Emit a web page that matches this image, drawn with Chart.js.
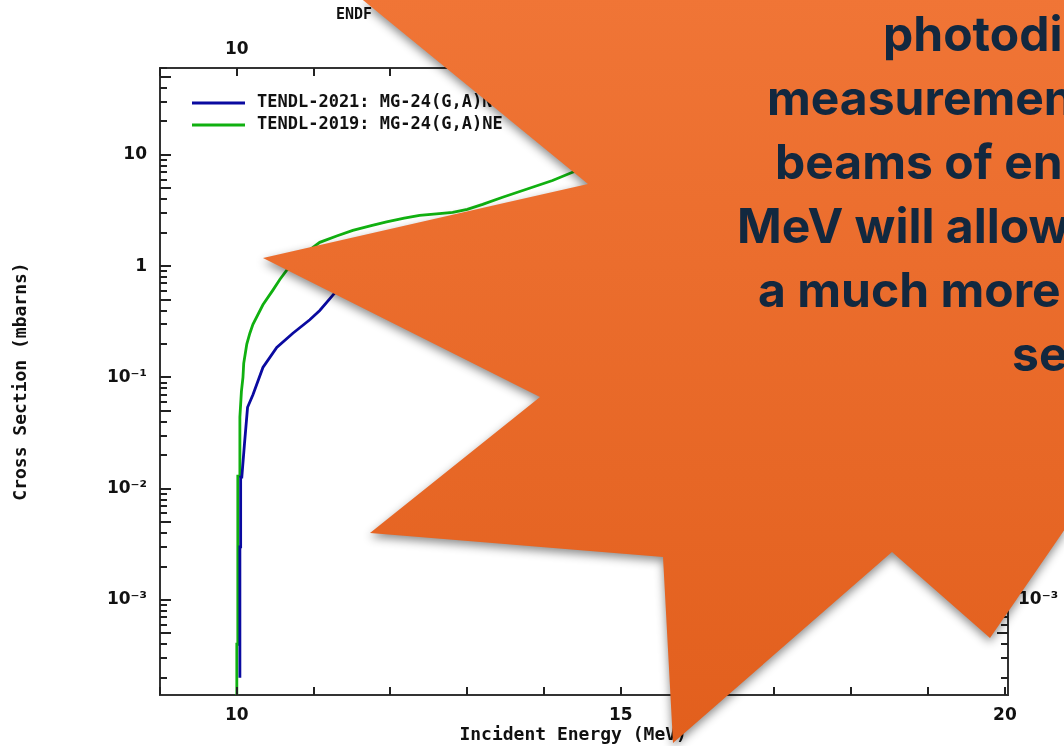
<!DOCTYPE html>
<html>
<head>
<meta charset="utf-8">
<script src="https://cdn.jsdelivr.net/npm/chart.js@4.4.1/dist/chart.umd.min.js"></script>
<style>
  body { margin: 0; background: #fff; }
  #quadro { position: relative; width: 1064px; height: 746px; overflow: hidden; background: #fff; }
  #grafico { position: absolute; left: 0; top: 0; }
  #estrela { position: absolute; left: 0; top: 0; pointer-events: none; filter: drop-shadow(0 4px 5px rgba(0,0,0,0.45)); }
  #texto { position: absolute; left: 0; top: 2px; width: 1064px; font-family: Inter, "Noto Sans", sans-serif; font-weight: 700;
           font-size: 48px; line-height: 64px; color: #12283f; white-space: nowrap; pointer-events: none; }
</style>
</head>
<body>
<div id="quadro">
  <canvas id="grafico" width="1064" height="746"></canvas>
  <svg id="estrela" width="1064" height="746" viewBox="0 0 1064 746">
    <defs>
      <linearGradient id="laranja" x1="0" y1="0" x2="0" y2="1">
        <stop offset="0" stop-color="#f07536"/>
        <stop offset="1" stop-color="#e25f1d"/>
      </linearGradient>
    </defs>
    <polygon fill="url(#laranja)" points="358,-4 588,184 263,258 540,397 370,533 663,557 673,743 892,552 990,638 1072,519 1072,-4"/>
  </svg>
  <div id="texto">
    <div style="padding-left:883px">photodi</div>
    <div style="padding-left:767px">measuremen</div>
    <div style="padding-left:775px">beams of en</div>
    <div style="padding-left:737px">MeV will allow</div>
    <div style="padding-left:758px">a much more</div>
    <div style="padding-left:1012px">se</div>
  </div>
</div>
<script>
// TENDL-2021 (azul)
const energia2021 = [10.04, 10.04, 10.05, 10.05, 10.065, 10.10, 10.14, 10.21, 10.34, 10.52, 10.73, 10.95, 11.08, 11.27, 11.5];
const secao2021   = [2.0e-4, 3.0e-3, 3.0e-3, 0.0127, 0.0127, 0.0255, 0.054, 0.07, 0.123, 0.186, 0.25, 0.33, 0.40, 0.57, 0.8];

// TENDL-2019 (verde)
const energia2019 = [10.00, 10.00, 10.013, 10.013, 10.03, 10.04, 10.06, 10.08, 10.09, 10.13, 10.17, 10.21, 10.34, 10.47, 10.56, 10.65,
                     10.85, 11.08, 11.3, 11.51, 11.75, 11.95, 12.18, 12.38, 12.6, 12.81, 13.0, 13.2, 13.46, 13.8, 14.11, 14.37, 14.7];
const secao2019   = [1.0e-4, 4.0e-4, 4.0e-4, 0.013, 0.013, 0.044, 0.075, 0.10, 0.134, 0.2, 0.25, 0.30, 0.45, 0.61, 0.76, 0.92,
                     1.25, 1.64, 1.87, 2.1, 2.32, 2.5, 2.7, 2.87, 2.96, 3.05, 3.25, 3.6, 4.17, 5.0, 5.9, 7.0, 8.0];

const legendas = ['TENDL-2021: MG-24(G,A)NE', 'TENDL-2019: MG-24(G,A)NE'];
const cores = ['#0a0aa0', '#10b010'];

const rotulosX = [10, 15, 20];
const rotulosY = [10, 1, 0.1, 0.01, 0.001];
const textosY = ['10', '1', '10\u207B\u00B9', '10\u207B\u00B2', '10\u207B\u00B3'];

const xMin = 9, xMax = 20.04;
const yMin = 1.4e-4, yMax = 60.5;

function juntaPontos(xs, ys) {
  return xs.map((x, i) => ({ x: x, y: ys[i] }));
}

function ticksX(escala) {
  let lista = [];
  for (let v = Math.ceil(xMin); v <= Math.floor(xMax); v++) lista.push({ value: v });
  escala.ticks = lista;
}

function ticksY(escala) {
  let lista = [];
  for (let e = -4; e <= 1; e++) {
    for (let m = 1; m <= 9; m++) {
      const v = m * Math.pow(10, e);
      if (v >= yMin && v <= yMax) lista.push({ value: v, major: m === 1 || m === 5 });
    }
  }
  escala.ticks = lista;
}

function rotuloX(valor) {
  return rotulosX.includes(valor) ? String(valor) : '';
}

function rotuloY(valor) {
  for (let i = 0; i < rotulosY.length; i++) {
    if (Math.abs(Math.log10(valor) - Math.log10(rotulosY[i])) < 1e-6) return textosY[i];
  }
  return '';
}

const fonteNum = { family: 'DejaVu Sans', size: 17, weight: 'bold' };
const fonteMono = { family: 'DejaVu Sans Mono', size: 18, weight: 'bold' };
const borda = { display: true, color: '#333', width: 2 };

const desenhos = {
  id: 'desenhos',
  afterDraw(chart) {
    const ctx = chart.ctx;
    const area = chart.chartArea;
    ctx.save();
    ctx.strokeStyle = '#222';
    ctx.lineWidth = 2;
    // marcas internas nos eixos x
    ['x', 'x2'].forEach(id => {
      const escala = chart.scales[id];
      const y0 = id === 'x' ? area.bottom : area.top;
      const dir = id === 'x' ? -1 : 1;
      escala.ticks.forEach(t => {
        const px = Math.round(escala.getPixelForValue(t.value));
        ctx.beginPath();
        ctx.moveTo(px, y0);
        ctx.lineTo(px, y0 + dir * 8);
        ctx.stroke();
      });
    });
    // marcas internas nos eixos y
    ['y', 'y2'].forEach(id => {
      const escala = chart.scales[id];
      const x0 = id === 'y' ? area.left : area.right;
      const dir = id === 'y' ? 1 : -1;
      escala.ticks.forEach(t => {
        const py = Math.round(escala.getPixelForValue(t.value));
        ctx.beginPath();
        ctx.moveTo(x0, py);
        ctx.lineTo(x0 + dir * (t.major ? 11 : 7), py);
        ctx.stroke();
      });
    });
    // legenda
    ctx.font = 'bold 17px "DejaVu Sans Mono"';
    ctx.textBaseline = 'middle';
    ctx.textAlign = 'left';
    chart.data.datasets.forEach((ds, i) => {
      const y = area.top + 35 + 22 * i;
      ctx.strokeStyle = ds.borderColor;
      ctx.lineWidth = 3;
      ctx.beginPath();
      ctx.moveTo(area.left + 32, y);
      ctx.lineTo(area.left + 85, y);
      ctx.stroke();
      ctx.fillStyle = '#111';
      ctx.fillText(ds.label, area.left + 97, y);
    });
    // titulo
    ctx.font = 'bold 15px "DejaVu Sans Mono"';
    ctx.fillText('ENDF', 336, 15);
    ctx.restore();
  }
};

const graficoEl = document.getElementById('grafico');
const grafico = new Chart(graficoEl, {
  type: 'line',
  data: {
    datasets: [
      {
        label: legendas[0],
        data: juntaPontos(energia2021, secao2021),
        borderColor: cores[0],
        borderWidth: 2.8,
        pointRadius: 0,
        tension: 0,
        fill: false,
        xAxisID: 'x',
        yAxisID: 'y'
      },
      {
        label: legendas[1],
        data: juntaPontos(energia2019, secao2019),
        borderColor: cores[1],
        borderWidth: 2.8,
        pointRadius: 0,
        tension: 0,
        fill: false,
        xAxisID: 'x',
        yAxisID: 'y'
      }
    ]
  },
  options: {
    responsive: false,
    animation: false,
    events: [],
    layout: { padding: 0 },
    plugins: {
      legend: { display: false },
      title: { display: false },
      tooltip: { enabled: false }
    },
    scales: {
      x: {
        type: 'linear', position: 'bottom', min: xMin, max: xMax,
        afterBuildTicks: ticksX,
        afterFit(s) { s.height = 51; },
        grid: { display: false },
        border: borda,
        ticks: { autoSkip: false, maxRotation: 0, padding: 2, color: '#111', font: fonteNum, callback: rotuloX },
        title: { display: true, text: 'Incident Energy (MeV)  ', color: '#111', font: fonteMono, padding: { top: 0, bottom: 0 } }
      },
      x2: {
        type: 'linear', position: 'top', min: xMin, max: xMax,
        afterBuildTicks: ticksX,
        afterFit(s) { s.height = 68; },
        grid: { display: false },
        border: borda,
        ticks: { autoSkip: false, maxRotation: 0, padding: 0, color: '#111', font: fonteNum, callback: rotuloX }
      },
      y: {
        type: 'logarithmic', position: 'left', min: yMin, max: yMax,
        afterBuildTicks: ticksY,
        afterFit(s) { s.width = 160; },
        grid: { display: false },
        border: borda,
        ticks: { autoSkip: false, padding: 5, color: '#111', font: fonteNum, callback: rotuloY },
        title: { display: true, text: 'Cross Section (mbarns)', color: '#111', font: fonteMono, padding: { top: 11, bottom: 0 } }
      },
      y2: {
        type: 'logarithmic', position: 'right', min: yMin, max: yMax,
        afterBuildTicks: ticksY,
        afterFit(s) { s.width = 56; },
        grid: { display: false },
        border: borda,
        ticks: { autoSkip: false, padding: 2, color: '#111', font: fonteNum, callback: rotuloY }
      }
    }
  },
  plugins: [desenhos]
});
</script>
</body>
</html>
